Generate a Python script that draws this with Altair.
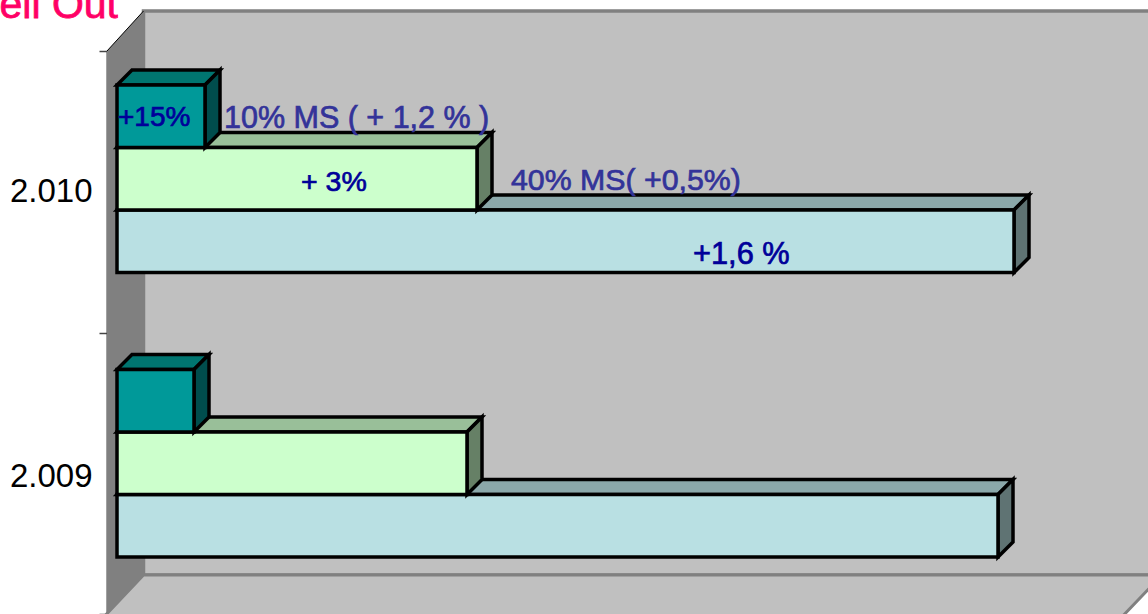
import altair as alt
import pandas as pd

# Sales length per year and channel, longest band first in draw order
YEARS = ["2.010", "2.009"]
BLUE_VALUES = [897, 881]
GREEN_VALUES = [360, 350]
TEAL_VALUES = [88, 77]

# Chart geometry in scale units
GROUP_TOP = [34, 318.5]
ROW = 62.5
DEPTH = 15
AXIS_X = -10
WALL_X = 26.5
WALL_TOP = -40
WALL_BOTTOM = 524
AXIS_BOTTOM = 563
FLOOR_FRONT = 570
FAR_RIGHT = 1100

X_SCALE = alt.Scale(domain=[-10, 1031], nice=False, zero=False)
Y_SCALE = alt.Scale(domain=[0, 563], reverse=True, nice=False, zero=False)
BLACK = "#000000"
EDGE = "#808080"
FONT = "Liberation Sans"


def xq(field):
    return alt.X(f"{field}:Q", scale=X_SCALE, axis=None)


def yq(field):
    return alt.Y(f"{field}:Q", scale=Y_SCALE, axis=None)


def xe(field):
    return alt.X2(f"{field}:Q")


def ye(field):
    return alt.Y2(f"{field}:Q")


def box_layers(values, row_index, front, top, side):
    """Front, top and side faces of one channel's bars across both years."""
    rows = []
    for year, group_top, value in zip(YEARS, GROUP_TOP, values):
        rows.append(
            dict(year=year, x0=0, x1=value, top=group_top + row_index * ROW,
                 bottom=group_top + (row_index + 1) * ROW)
        )
    frame = pd.DataFrame(rows)
    top_rows, side_rows = [], []
    for r in rows:
        top_rows += [
            dict(year=r["year"], a=r["x0"], b=r["x1"], y=r["top"]),
            dict(year=r["year"], a=r["x0"] + DEPTH, b=r["x1"] + DEPTH, y=r["top"] - DEPTH),
        ]
        side_rows += [
            dict(year=r["year"], x=r["x1"], y0=r["top"], y1=r["bottom"]),
            dict(year=r["year"], x=r["x1"] + DEPTH, y0=r["top"] - DEPTH, y1=r["bottom"] - DEPTH),
        ]
    stroke = dict(stroke=BLACK, strokeWidth=3.5, strokeJoin="miter")
    return [
        alt.Chart(pd.DataFrame(top_rows)).mark_area(orient="horizontal", color=top, **stroke).encode(
            x=xq("a"), x2=xe("b"), y=yq("y"), detail="year:N"
        ),
        alt.Chart(pd.DataFrame(side_rows)).mark_area(orient="vertical", color=side, **stroke).encode(
            x=xq("x"), y=yq("y0"), y2=ye("y1"), detail="year:N"
        ),
        alt.Chart(frame).mark_rect(color=front, **stroke).encode(
            x=xq("x0"), x2=xe("x1"), y=yq("top"), y2=ye("bottom")
        ),
    ]


# Category axis drawn from a band scale, ticks on the band edges
axis_layer = alt.Chart(pd.DataFrame({"year": YEARS})).mark_bar(opacity=0).encode(
    y=alt.Y(
        "year:N",
        sort=None,
        title=None,
        scale=alt.Scale(domain=YEARS, paddingInner=0, paddingOuter=0),
        axis=alt.Axis(
            tickBand="extent",
            domainColor="#444444",
            domainWidth=2,
            tickColor="#444444",
            tickWidth=1.5,
            tickSize=8,
            labelPadding=7,
            labelFont=FONT,
            labelFontSize=33,
            labelColor=BLACK,
            labelOffset={"condition": {"test": "datum.label == '2.009'", "value": 3}, "value": 0},
            grid=False,
        ),
    ),
    x=alt.value(0),
    x2=alt.value(1),
)

# Plot walls and floor
back_wall = alt.Chart(
    pd.DataFrame([dict(a=WALL_X, b=FAR_RIGHT, t=WALL_TOP, u=WALL_BOTTOM)])
).mark_rect(color="#c0c0c0", stroke=EDGE, strokeWidth=3.5).encode(
    x=xq("a"), x2=xe("b"), y=yq("t"), y2=ye("u")
)
side_wall = alt.Chart(
    pd.DataFrame(
        [dict(x=AXIS_X, y0=0, y1=AXIS_BOTTOM), dict(x=WALL_X, y0=WALL_TOP, y1=WALL_BOTTOM)]
    )
).mark_area(orient="vertical", color=EDGE).encode(x=xq("x"), y=yq("y0"), y2=ye("y1"))
floor = alt.Chart(
    pd.DataFrame([dict(a=WALL_X, b=1045, y=WALL_BOTTOM), dict(a=AXIS_X - 7, b=1001, y=FLOOR_FRONT)])
).mark_area(orient="horizontal", color="#c0c0c0", stroke=EDGE, strokeWidth=3).encode(
    x=xq("a"), x2=xe("b"), y=yq("y")
)
wall_corner = alt.Chart(
    pd.DataFrame([dict(a=AXIS_X, b=WALL_X, t=0, u=WALL_TOP)])
).mark_rule(color=BLACK, strokeWidth=1).encode(x=xq("a"), x2=xe("b"), y=yq("t"), y2=ye("u"))

# Value notes placed against the bars
NOTES = ["+15%", "10% MS ( + 1,2 % )", "+ 3%", "40% MS( +0,5%)", "+1,6 %"]
NOTE_X = [1, 107, 184, 394, 576]
NOTE_Y = [75, 77, 140, 139, 213]
NOTE_SIZES = [28, 30.5, 28.5, 30.3, 30.8]
NOTE_COLORS = ["#000099", "#333399", "#000099", "#333399", "#000099"]
notes = alt.Chart(
    pd.DataFrame({"note": NOTES, "x": NOTE_X, "y": NOTE_Y, "c": NOTE_COLORS, "s": NOTE_SIZES})
).mark_text(align="left", baseline="alphabetic", font=FONT, strokeWidth=0.7).encode(
    x=xq("x"),
    y=yq("y"),
    text="note:N",
    color=alt.Color("c:N", scale=None),
    stroke=alt.Stroke("c:N", scale=None),
    size=alt.Size("s:Q", scale=None),
)

heading = alt.Chart(pd.DataFrame({"t": ["Sell Out"], "x": [1], "y": [-33.5]})).mark_text(
    align="right", baseline="alphabetic", font=FONT, fontSize=41, color="#ff0066",
    stroke="#ff0066", strokeWidth=0.8,
).encode(x=xq("x"), y=yq("y"), text="t:N")

layers = [back_wall, floor, side_wall, wall_corner]
layers += box_layers(BLUE_VALUES, 2, "#b9e0e3", "#8ba8aa", "#5f7373")
layers += box_layers(GREEN_VALUES, 1, "#ccffcc", "#99bf99", "#668066")
layers += box_layers(TEAL_VALUES, 0, "#009999", "#007570", "#004d4d")
layers += [notes, heading]

marks = alt.layer(*layers)
chart = (
    alt.layer(marks, axis_layer)
    .resolve_scale(y="independent")
    .properties(
        width=1041,
        height=563,
        background="#ffffff",
        padding={"left": 107, "top": 51, "right": 0, "bottom": 0},
        autosize=alt.AutoSizeParams(type="none"),
    )
    .configure_view(stroke=None)
)
chart.save("out.html", embed_options={"renderer": "svg", "actions": False})
